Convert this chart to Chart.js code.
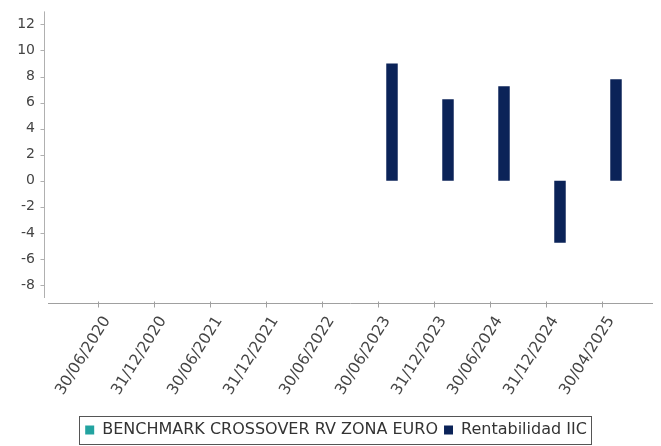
<!DOCTYPE html>
<html>
<head>
<meta charset="utf-8">
<script src="https://cdn.jsdelivr.net/npm/chart.js@4/dist/chart.umd.min.js"></script>
<style>
html,body{margin:0;padding:0;background:#fff;}
#wrap{width:661px;height:446px;position:relative;}
</style>
</head>
<body>
<div id="wrap"><canvas id="c" width="661" height="446"></canvas></div>
<script>
const categories = ["30/06/2020","31/12/2020","30/06/2021","31/12/2021","30/06/2022","30/06/2023","31/12/2023","30/06/2024","31/12/2024","30/04/2025"];
const benchmarkValues = [null,null,null,null,null,null,null,null,null,null];
const iicValues = [null,null,null,null,null,9.0,6.25,7.25,-4.75,7.8];
const yTicks = [-8,-6,-4,-2,0,2,4,6,8,10,12];
const seriesNames = ["BENCHMARK CROSSOVER RV ZONA EURO","Rentabilidad IIC"];

const FONT = "'DejaVu Sans', sans-serif";

const axesPlugin = {
  id: 'axesPlugin',
  afterLayout(chart) {
    const lg = chart.legend;
    if (lg) {
      const target = 336;
      const shift = target - (lg.left + lg.right) / 2;
      const dy = 2;
      lg.left += shift; lg.right += shift;
      lg.top += dy; lg.bottom += dy;
      (lg.legendHitBoxes || []).forEach(h => { h.left += shift; h.top += dy; });
    }
  },
  afterDraw(chart) {
    const ctx = chart.ctx;
    const y = chart.scales.y, x = chart.scales.x;
    const ca = chart.chartArea;
    ctx.save();
    ctx.lineWidth = 1;
    // y axis
    ctx.strokeStyle = '#b0b0b0';
    const ax = ca.left - 26 + 0.5;
    ctx.beginPath();
    ctx.moveTo(ax, y.getPixelForValue(y.max));
    ctx.lineTo(ax, y.getPixelForValue(y.min));
    ctx.stroke();
    yTicks.forEach(v => {
      const py = Math.round(y.getPixelForValue(v)) + 0.5;
      ctx.beginPath(); ctx.moveTo(ax - 4, py); ctx.lineTo(ax, py); ctx.stroke();
    });
    // x axis
    ctx.strokeStyle = '#a0a0a0';
    const ay = Math.round(ca.bottom) + 5 + 0.5;
    ctx.beginPath();
    ctx.moveTo(ca.left - 22, ay);
    ctx.lineTo(ca.right + 23, ay);
    ctx.stroke();
    categories.forEach((c, i) => {
      const px = Math.round(x.getPixelForValue(i)) + 0.5;
      ctx.beginPath(); ctx.moveTo(px, ay - 2); ctx.lineTo(px, ay + 4); ctx.stroke();
    });
    // legend border
    const lg = chart.legend;
    if (lg && lg.legendHitBoxes && lg.legendHitBoxes.length) {
      let l = Infinity, r = -Infinity, t = Infinity, b = -Infinity;
      lg.legendHitBoxes.forEach(h => {
        l = Math.min(l, h.left); r = Math.max(r, h.left + h.width);
        t = Math.min(t, h.top); b = Math.max(b, h.top + h.height);
      });
      ctx.strokeStyle = '#555';
      const top = Math.round(t) - 8;
      const bottom = Math.min(Math.round(b) + 8, 444);
      ctx.strokeRect(Math.round(l) - 6 + 0.5, top + 0.5, Math.round(r - l) + 10, bottom - top);
    }
    ctx.restore();
  }
};

new Chart(document.getElementById('c'), {
  type: 'bar',
  data: {
    labels: categories,
    datasets: [
      { label: seriesNames[0], data: benchmarkValues, backgroundColor: '#22a3a0', borderWidth: 0, categoryPercentage: 1.0, barPercentage: 0.41 },
      { label: seriesNames[1], data: iicValues, backgroundColor: '#0b2358', borderWidth: 0, categoryPercentage: 1.0, barPercentage: 0.41 }
    ]
  },
  options: {
    responsive: false,
    animation: false,
    layout: { padding: { left: 0, right: 31, top: 11, bottom: 0 } },
    plugins: {
      tooltip: { enabled: false },
      legend: {
        position: 'bottom',
        labels: {
          boxWidth: 9, boxHeight: 9, padding: 6,
          color: '#333',
          font: { family: FONT, size: 16 }
        }
      }
    },
    scales: {
      x: {
        type: 'category',
        offset: true,
        grid: { display: false, drawTicks: false },
        border: { display: false },
        ticks: {
          autoSkip: false, maxRotation: 58, minRotation: 58,
          padding: 15, labelOffset: 9,
          color: '#444', font: { family: FONT, size: 15.5 }
        },
        afterFit(s) { s.height = 116; }
      },
      y: {
        min: -9, max: 13,
        grid: { display: false, drawTicks: true, tickLength: 32 },
        border: { display: false },
        afterBuildTicks(s) { s.ticks = yTicks.map(v => ({ value: v })); },
        ticks: { padding: 3, color: '#444', font: { family: FONT, size: 14 } },
        afterFit(s) { s.width = 70; }
      }
    }
  },
  plugins: [axesPlugin]
});
</script>
</body>
</html>
